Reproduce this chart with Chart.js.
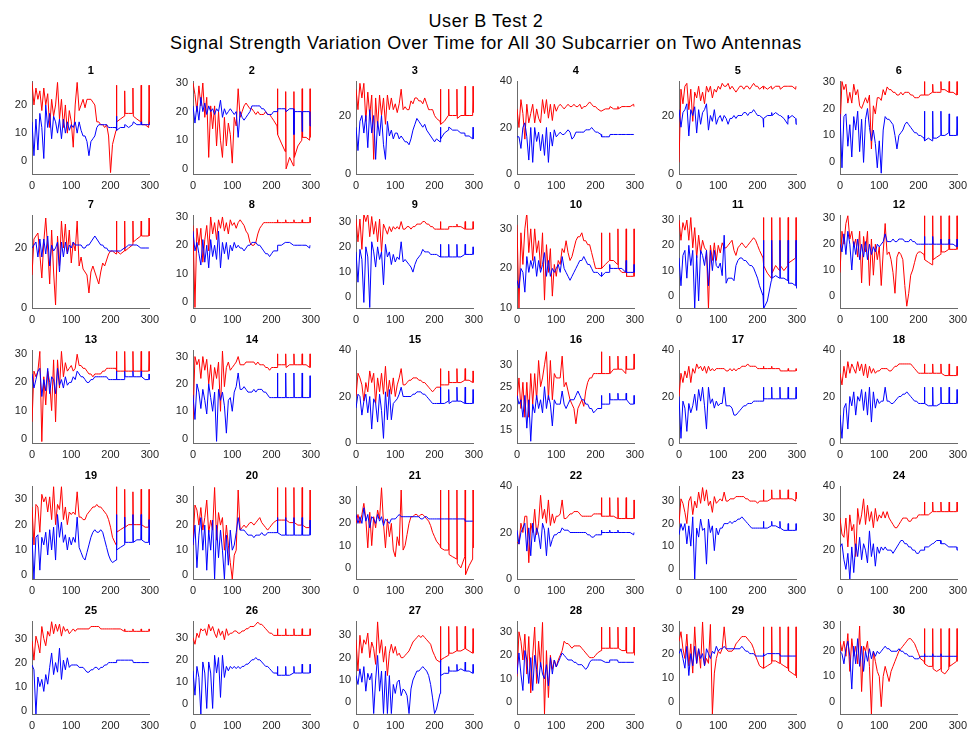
<!DOCTYPE html>
<html>
<head>
<meta charset="utf-8">
<script src="https://cdn.jsdelivr.net/npm/chart.js@4.4.1/dist/chart.umd.min.js"></script>
<style>
  body { margin: 0; background: #fff; width: 972px; height: 738px; position: relative; overflow: hidden;
         font-family: "Liberation Sans", Arial, Helvetica, sans-serif; }
  #title { position: absolute; left: 0; top: 10px; width: 972px; text-align: center;
           font-size: 18px; letter-spacing: 0.55px; line-height: 22px; color: #000; }
  canvas { position: absolute; }
</style>
</head>
<body>
<div id="title">User B Test 2<br>Signal Strength Variation Over Time for All 30 Subcarrier on Two Antennas</div>
<script>
// sample index of each stored value (denser around the periodic spikes)
const T = [0,5,10,15,20,25,30,35,40,45, 50,55,60,65,70,75,80,85,90,95,
  100,105,110,115,120,125,130,135,140,145, 150,155,160,165,170,175,180,185,190,195,
  200,205,214,215,216,225,235,236,237,246, 256,257,258,267,277,278,279,288,297,298, 300];
const xTicks = [0, 100, 200, 300];

// antenna 1 (red) and antenna 2 (blue), one pair per subcarrier
const s1r = [28,20,26,22,25,18,26,20,24,12, 22,16,20,28,15,22,12,20,10,18, 14,5,20,28,18,20,22,19,22,22, 22,21,20,14,14,13,13,12,13,9, -4,6,11,27,14,15,16,25,17,17, 17,26,16,15,14,27,13,13,12,27, 13];
const s1b = [14,2,15,4,17,12,1,20,12,17, 8,16,14,10,15,8,15,10,14,11, 13,12,14,10,14,11,9,9,7,2, 7,8,9,12,13,13,13,13,13,12, 12,12,12,16,11,12,12,13,13,12, 13,13,14,13,13,14,13,13,13,13, 14];
const s2r = [30,26,20,29,22,30,18,25,4,22, 14,22,8,20,10,4,18,8,16,12, 2,18,15,28,18,20,22,23,22,21, 21,20,19,20,19,19,19,20,19,19, 18,17,15,28,12,9,6,27,0,4, 1,27,4,8,10,28,11,11,10,28, 11];
const s2b = [22,16,22,17,25,20,23,19,22,20, 21,19,21,20,24,18,21,19,20,21, 20,19,20,11,20,18,17,18,19,20, 22,22,22,22,22,21,21,20,19,19, 19,20,20,21,21,21,21,21,20,21, 21,12,20,20,20,13,20,20,20,15, 20];
const s3r = [29,22,31,26,31,18,28,20,27,5, 26,16,27,20,26,17,27,22,26,22, 24,21,24,29,22,23,22,22,25,24, 26,26,25,25,24,26,24,22,22,22, 20,19,18,29,17,18,20,29,20,20, 20,29,19,20,20,30,20,20,20,30, 21];
const s3b = [16,8,18,20,14,20,9,22,14,20, 5,18,13,20,10,5,18,13,15,12, 14,14,12,13,12,11,11,10,12,15, 17,19,18,17,16,17,15,14,13,12, 11,12,11,16,12,14,15,16,16,15, 15,15,15,14,14,13,13,13,12,16, 12];
const s4r = [28,20,32,26,15,30,22,26,30,22, 28,24,22,32,26,32,24,30,23,30, 27,29,30,29,28,29,30,29,29,30, 29,29,30,28,29,29,30,31,30,29, 29,28,27,27,27,28,28,28,29,28, 28,29,28,29,29,29,29,29,30,29, 29];
const s4b = [16,16,11,20,22,16,6,20,5,20, 14,18,10,17,8,20,5,18,12,19, 16,17,18,17,17,18,19,18,15,16, 18,18,18,18,18,19,19,19,20,19, 18,18,17,16,16,16,16,16,17,17, 17,17,17,17,17,17,17,17,17,17, 17];
const s5r = [4,29,24,30,31,22,29,18,28,26, 30,25,28,24,30,28,30,26,29,28, 30,29,31,30,30,31,29,30,29,28, 29,30,30,29,30,30,29,30,31,30, 30,29,30,29,30,29,30,30,29,30, 30,30,29,30,30,30,30,30,29,30, 30];
const s5b = [22,16,21,22,24,13,22,20,23,14, 22,17,21,22,24,15,20,18,22,17, 19,20,18,20,19,17,19,19,20,19, 20,20,20,21,21,20,21,21,22,21, 20,20,19,16,19,20,20,21,20,21, 20,20,20,19,17,20,19,20,19,17, 19];
const s6r = [12,30,27,29,22,26,22,29,25,27, 21,20,22,24,22,25,5,21,18,24, 24,23,27,25,28,27,27,26,26,25, 25,26,25,26,26,26,25,25,24,24, 24,25,25,30,25,25,26,29,26,26, 26,30,27,27,26,30,26,26,25,30, 25];
const s6b = [18,-2,17,18,6,14,2,17,12,19, 4,16,0,16,20,13,8,12,7,-2, 8,-4,12,17,16,16,15,14,10,5, 10,11,12,14,15,14,13,12,11,11, 10,10,9,19,8,9,8,19,9,9, 10,19,10,10,11,18,10,10,10,17, 10];
const s7r = [11,23,24,25,18,10,22,30,20,8, 26,12,1,24,14,29,20,28,18,26, 15,22,19,29,14,17,13,12,11,5, 12,14,12,10,8,12,15,14,16,18, 19,19,18,29,19,18,19,29,19,20, 21,29,22,23,24,29,24,24,24,30, 24];
const s7b = [20,21,22,17,23,17,23,18,24,14, 21,19,20,22,12,22,17,22,18,21, 20,22,21,21,21,21,20,20,21,21, 22,23,24,23,22,21,21,20,20,19, 19,19,19,19,19,19,20,20,20,21, 21,21,21,21,20,20,20,20,20,20, 20];
const s8r = [27,-2,26,20,26,14,22,27,18,30, 24,28,22,29,26,30,25,28,24,29, 27,28,26,28,29,28,27,25,24,21, 20,20,21,24,26,27,28,28,28,28, 28,28,28,29,28,28,28,29,28,28, 28,29,28,28,28,29,28,28,28,30, 28];
const s8b = [25,18,21,17,13,22,14,20,12,22, 16,20,15,25,12,21,17,21,15,20, 18,21,19,20,19,19,18,19,20,20, 21,21,21,20,20,19,18,17,17,16, 17,18,18,19,20,20,21,21,21,21, 20,20,20,20,20,20,20,20,19,20, 20];
const s9r = [31,22,31,19,33,30,33,24,32,25, 30,22,31,18,29,27,25,28,26,28, 27,28,27,30,27,27,28,28,27,28, 28,29,29,29,30,30,29,29,28,28, 27,27,27,30,27,27,27,28,28,28, 28,29,28,28,27,30,27,27,27,30, 27];
const s9b = [18,6,19,15,-2,20,16,-4,22,18, 12,20,15,18,5,21,16,18,13,17, 14,16,15,22,14,15,14,13,12,10, 13,15,16,17,19,18,18,18,17,17, 17,17,16,21,16,16,16,21,16,16, 16,21,16,16,17,21,17,17,17,20, 17];
const s10r = [31,10,29,21,30,34,24,30,22,30, 24,27,20,29,12,26,19,25,13,21, 18,22,21,25,24,27,24,22,23,25, 27,28,28,29,27,27,26,26,24,22, 20,20,20,29,20,21,22,29,22,22, 21,30,20,19,19,30,18,18,18,30, 18];
const s10b = [17,15,20,19,14,23,19,22,20,23, 18,22,19,21,24,18,22,18,20,19, 20,21,19,23,20,19,18,17,18,19, 20,21,22,22,23,22,21,21,20,19, 19,19,18,19,18,19,19,21,20,20, 20,20,20,20,19,22,19,19,19,21, 19];
const s11r = [30,22,29,26,30,22,31,19,27,15, 24,17,22,19,18,-5,20,14,21,14, 20,17,21,19,19,20,21,22,18,16, 19,20,21,20,19,20,21,22,23,22, 20,18,15,31,12,9,7,31,9,12, 10,31,12,10,12,31,13,14,15,31, 14];
const s11b = [15,4,16,18,7,20,12,18,-5,16, -2,18,16,12,18,4,18,10,18,12, 11,13,8,24,5,7,7,7,6,12, 14,15,15,14,14,13,12,12,11,9, 7,4,0,22,-5,-2,6,22,7,8, 7,22,7,7,6,22,5,5,4,22, 3];
const s12r = [9,25,20,28,31,22,25,19,22,15, 25,5,23,17,25,4,22,8,20,14, 19,4,17,28,16,17,14,9,1,15, 17,16,14,4,-4,1,8,10,13,16, 17,17,16,31,14,13,12,31,14,15, 16,31,17,17,18,31,18,18,18,31, 18];
const s12b = [20,17,24,16,25,20,10,21,16,22, 14,20,15,21,14,20,16,19,17,20, 19,20,21,24,21,21,21,22,21,21, 22,22,22,21,21,21,22,21,21,20, 20,20,20,23,20,20,20,23,20,20, 20,22,20,20,20,22,20,20,19,22, 19];
const s13r = [6,24,22,24,31,-1,22,12,24,20, 10,28,6,28,18,31,22,27,24,25, 26,24,25,30,26,26,25,25,24,23, 23,22,23,23,23,23,24,24,25,25, 25,25,25,31,24,24,24,31,24,24, 24,31,24,24,24,31,24,24,24,31, 24];
const s13b = [23,18,21,24,25,15,21,17,25,16, 22,21,16,25,19,21,18,22,19,20, 20,22,21,24,23,22,22,21,20,20, 21,21,22,22,22,22,22,22,22,21, 21,21,21,24,21,21,21,24,22,22, 22,24,22,22,22,24,22,21,21,23, 21];
const s14r = [7,30,27,29,22,30,25,29,20,27, 18,26,22,28,10,32,19,26,28,25, 26,27,28,30,27,27,27,28,28,28, 28,28,27,28,27,27,27,26,26,25, 26,26,26,31,27,27,27,31,26,27, 27,31,27,27,27,31,27,27,26,31, 26];
const s14b = [16,7,20,17,11,18,14,9,20,15, 10,17,-1,18,14,17,12,2,14,15, 10,17,19,24,18,18,19,18,17,17, 17,18,17,18,18,18,17,17,16,15, 15,15,15,24,15,15,15,24,15,15, 15,24,15,15,15,24,15,15,15,23, 15];
const s15r = [20,30,28,25,18,26,22,31,26,30, 17,28,22,30,21,33,20,27,21,28, 20,25,28,32,25,25,26,27,27,28, 28,28,27,27,26,26,25,24,23,22, 23,24,24,32,25,25,25,31,26,26, 26,32,26,26,27,32,27,27,26,31, 26];
const s15b = [15,21,20,12,18,21,13,20,6,19, 17,9,21,14,2,22,10,23,10,17, 18,19,21,24,20,20,20,20,20,21, 21,22,22,22,21,21,20,19,18,17, 17,17,17,24,17,17,18,23,17,18, 18,24,18,18,17,24,17,17,17,23, 17];
const s16r = [22,27,20,26,18,26,18,28,21,28, 22,31,25,27,30,33,22,31,22,28, 27,27,27,32,25,26,24,22,21,20, 16.5,20,21,22,20.5,24,26,27,27,28, 28,28,28,33,28,28,28,32,28,29, 29,32,29,29,28,32,29,29,29,32.5, 29];
const s16b = [23,21,22,18,23,15.5,22,12.5,21,19, 23,20,22,19,25,20,23,21,16,22, 21,21,21,24,21,20,21,22,22,22, 23,24,23,22,22,21,21,20,20,19, 19.5,20,20,23,21,21,21,23.5,22,22, 22,23.5,22,22,22,23.5,22,21,21,23, 21];
const s17r = [20,30,26,31,28,33,26,32,30,34, 32,33,31,33,30,33,31,32,31,32, 32,32,32,32,31,31,32,31,32,31, 32,32,33,33,33,34,33,33,33,33, 32,32,32,33,32,32,32,33,32,32, 32,32,31,31,31,32,31,31,31,32, 31];
const s17b = [20,2,18,15,5,17,13,16,21,14, 23,18,24,16,6,24,17,19,15,18, 16,17,17,24,16,16,16,15,12,12, 13,14,15,16,16,17,17,17,18,18, 18,18,18,24,19,19,19,24,19,19, 19,24,19,19,19,24,19,19,19,24, 19];
const s18r = [30,25,33,28,35,30,34,32,30,35, 31,34,29,34,28,33,30,32,30,31, 31,32,32,32,32,31,31,32,33,33, 34,34,34,34,34,34,34,33,32,31, 30,30,30,34,30,30,30,34,30,30, 30,34,30,29,29,34,29,29,29,33, 29];
const s18b = [12,2,15,17,6,20,16,22,12,20, 18,23,14,22,12,24,9,22,15,19, 17,18,18,24,18,18,17,17,18,19, 20,20,21,21,22,21,20,19,18,18, 17,17,17,24,17,16,16,24,16,16, 17,24,17,17,17,24,17,17,17,23, 17];
const s19r = [27,12,28,27,17,32,29,31,25,31, 22,35,20,28,26,35,22,27,20,25, 24,25,24,33,23,23,22,22,24,25, 26,27,27,28,27,27,26,25,24,22, 19,15,12,35,17,18,19,34,19,20, 20,33,20,20,20,34,20,19,19,34, 18];
const s19b = [15,-1.5,15,16,2,15,12,17,8,18, 10,19,6,24,15,21,13,16,10,15, 12,15,13,23,11,9,7,6,9,12, 15,17,18,17,17,18,17,14,11,8, 6,5,6,24,10,11,12,23,13,13, 13,24,13,14,14,24,14,13,13,22, 12];
const s20r = [12,28,26,20,27,18,23,30,17,22, 18,35,14,25,20,23,10,20,12,5, -1.5,8,10,34,18,19,20,19,20,21, 21,20,21,22,23,21,20,19,18,19, 20,21,22,35,22,22,22,35,22,21, 21,35,21,20,20,35,20,19,19,34, 18];
const s20b = [12,20,3,16,23,10,20,2,18,10, 22,-1.5,20,7,18,10,-1.5,16,4,18, 10,12,17,23,18,18,18,17,16,16, 16,15,16,16,16,17,16,16,17,17, 17,17,17,23,17,16,16,23,16,16, 16,23,16,16,16,23,16,16,16,22, 16];
const s21r = [20,24,20,24,29,22,9,25,10,23, 18,26,22,36,20,9,22,14,20,8, 5,14,10,35,8,10,15,20,23,23, 24,24,23,24,24,23,22,21,19,16, 14,12,10,35,9,8,8,35,6,5, 4,35,2,0,5,35,-3,1,4,35, 9];
const s21b = [24,20,23,20,27,21,24,18,23,22, 20,24,21,23,19,22,21,20,22,22, 22,23,24,23,23,23,23,23,23,23, 23,23,23,22,22,23,23,22,22,22, 22,22,22,22,22,22,22,22,22,22, 22,22,22,22,22,21,21,21,21,21, 21];
const s22r = [16,15,24,20,27,27,7,24,20,30, 19,24,36,26,30,24,34,23,28,24, 27,27,28,34,26,26,27,28,28,29, 29,29,28,27,27,27,27,27,27,28, 28,28,28,35,27,27,27,35,27,27, 26,35,26,26,26,35,26,26,26,34, 26];
const s22b = [21,15,20,22,24,12,22,10,24,16, 22,19,13,24,21,10,22,14,17,19, 19,20,20,22,21,21,21,20,20,20, 20,20,20,20,20,20,19,19,18,18, 19,19,19,21,20,20,20,21,20,20, 20,21,20,20,20,20,20,20,19,20, 20];
const s23r = [20,31,29,25,20,30,32,24,30,27, 34,29,36,30,35,28,30,25,32,29, 30,31,30,34,30,30,31,31,31,32, 32,32,32,32,31,31,30,30,30,30, 29,30,30,35,30,30,31,35,31,31, 31,35,31,31,31,35,31,31,30,34, 31];
const s23b = [15,20,17,20,11,19,10,23,-4.6,18, 14,22,17,18,2,22,16,19,8,18, 15,18,18,20,20,20,21,20,21,21, 22,22,23,22,21,20,19,18,18,18, 18,18,18,21,18,18,19,21,19,19, 18,21,18,17,17,20,17,17,17,20, 17];
const s24r = [30,25,24,30,21,31,26,28,18,33, 28,31,36,28,34,29,32,27,33,29, 31,30,32,30,32,30,29,28,27,27, 28,29,30,30,30,29,29,30,30,30, 31,31,31,35,31,31,32,35,32,32, 32,35,32,32,32,35,32,32,32,35, 32];
const s24b = [21,22,17,14,19,11,21,13,22,18, 24,17,22,20,16,26,18,22,15,21, 19,21,20,21,20,20,20,19,20,21, 22,23,23,22,22,21,21,20,20,19, 19,20,20,20,21,21,22,22,22,23, 23,22,22,22,21,21,21,21,21,20, 21];
const s25r = [29,21,31,28,24,35,30,27,33,31, 37,32,36,33,36,31,35,33,34,32, 33,34,33,34,34,34,34,34,34,34, 35,35,35,35,35,34,34,34,34,34, 34,34,34,34,34,34,33,34,33,33, 33,34,33,33,33,34,33,33,33,34, 33];
const s25b = [19,17,-1.4,14,10,13,8,15,11,18, 24,15,20,16,26,13,21,17,22,18, 19,19,19,19,18,18,18,17,16,16, 17,17,18,18,17,18,18,19,19,20, 20,20,20,20,21,21,21,21,21,21, 21,21,20,20,20,20,20,20,20,20, 20];
const s26r = [30,27,32,30,34,33,34,31,36,33, 35,32,30,34,31,33,29,34,31,32, 32,33,33,32,32,33,33,34,34,35, 35,35,36,37,36,36,35,34,33,32, 32,31,31,34,31,31,31,34,31,31, 31,34,31,31,31,34,31,31,31,34, 31];
const s26b = [15,4,17,12,-4.5,19,14,-2,19,14, -2,22,14,21,3,22,12,17,15,17, 16,17,16,17,16,17,17,18,18,19, 20,20,21,20,20,19,18,17,17,16, 15,14,14,17,13,13,13,17,13,13, 14,17,14,14,14,18,14,14,14,18, 14];
const s27r = [28,14,30,22,28,26,31,20,27,24, 17,36,22,28,18,25,12,22,26,22, 25,21,22,20,20,21,22,23,25,27, 28,29,30,29,30,29,28,27,26,23, 21,19,18,34,19,20,21,34,22,22, 23,34,23,23,24,34,24,23,22,33, 22];
const s27b = [12,8,15,9,16,5,13,10,13,-5, 10,21,5,14,-5,14,-5,12,-5,8, 4,9,10,3,6,5,3,-5,6,10, 12,14,14,15,16,15,14,12,8,2, -5,-3,4,19,12,13,13,16,14,14, 14,17,14,15,14,18,14,14,13,17, 13];
const s28r = [11,30,26,18,29,12,28,4,20,32, 8,26,15,34,-5,22,2,20,14,18, 15,18,20,22,26,25,25,24,23,24, 24,24,24,23,22,21,20,19,19,19, 20,21,22,32,23,23,23,32,23,23, 23,32,23,22,22,32,21,21,21,32, 20];
const s28b = [12,21,12,5,22,18,8,19,5,20, 14,8,17,12,10,16,7,19,12,18, 15,17,19,21,20,19,18,18,18,17, 17,16,16,16,15,14,15,17,18,18, 18,18,18,18,18,17,17,18,18,18, 18,18,17,17,17,17,17,17,17,17, 17];
const s29r = [25,29,22,18,28,15,24,12,31,16, 22,14,33,15,18,16,32,-4.8,12,18, 21,20,22,31,22,21,21,21,22,24, 25,26,27,27,27,26,25,24,22,19, 17,15,14,31,14,15,16,31,17,17, 16,31,16,15,14,31,13,12,11,31, 10];
const s29b = [20,22,18,14,23,11,20,15,23,16, 22,18,20,15,22,20,18,21,20,23, 21,22,22,23,22,22,22,22,22,22, 22,22,23,22,21,21,20,20,20,19, 19,19,19,20,19,20,20,20,20,20, 20,20,19,19,19,19,19,19,19,19, 19];
const s30r = [24,20,24,18,27,12,25,18,22,15, 30,4,22,20,24,14,-4.9,20,16,12, 10,-2,10,14,11,8,12,14,16,18, 20,21,22,23,24,25,25,24,23,21, 19,17,16,29,15,14,14,29,13,12, 13,29,12,11,13,29,14,15,16,29, 16];
const s30b = [20,19,15,21,24,18,5,22,15,25, 14,22,12,20,16,21,17,20,18,20, 19,20,21,22,21,21,20,20,20,20, 21,20,20,19,19,18,18,18,17,17, 17,18,18,19,18,18,18,19,18,18, 18,19,18,18,18,18,18,18,18,18, 18];

const redSeries = [s1r,s2r,s3r,s4r,s5r,s6r,s7r,s8r,s9r,s10r,s11r,s12r,s13r,s14r,s15r,
  s16r,s17r,s18r,s19r,s20r,s21r,s22r,s23r,s24r,s25r,s26r,s27r,s28r,s29r,s30r];
const blueSeries = [s1b,s2b,s3b,s4b,s5b,s6b,s7b,s8b,s9b,s10b,s11b,s12b,s13b,s14b,s15b,
  s16b,s17b,s18b,s19b,s20b,s21b,s22b,s23b,s24b,s25b,s26b,s27b,s28b,s29b,s30b];

// y limits and tick labels of each subplot
const yMin = [-4.5,-1.8,0,0,0,-4.3, 0,-2.2,-4.2,10,-4.8,-4.7, -1.5,-1.6,0,12.1,0,0,
  -1.5,-1.5,-5,0,-4.6,11, -1.4,-4.5,-5.2,-5,-4.8,-4.9];
const yMax = [28.5,30.7,31.8,40,31.8,30.2, 31,30.7,32.6,33.5,32,31.3, 31.5,32.4,40,33.4,40,40,
  35.3,35.6,36.8,40,36.7,40, 37.3,37.5,36.4,34.6,33.4,32];
const yTicks = [
  [0,10,20],[0,10,20,30],[0,20],[0,20,40],[0,20],[0,10,20,30],
  [0,20],[0,10,20,30],[0,10,20,30],[10,20,30],[0,10,20,30],[0,10,20,30],
  [0,10,20,30],[0,10,20,30],[0,20,40],[15,20,25,30],[0,20,40],[0,20,40],
  [0,10,20,30],[0,10,20,30],[0,10,20,30],[0,20,40],[0,10,20,30],[20,30,40],
  [0,10,20,30],[0,10,20,30],[0,10,20,30],[0,10,20,30],[0,10,20,30],[0,10,20,30]
];

// grid layout (plot-area left / top of each column / row)
const colLeft = [32, 193, 356, 517, 679, 840];
const rowTop = [81, 215, 350, 486, 621];
const plotW = 118, plotH = 93;
const padL = 34, padT = 18, padR = 14, padB = 20;

const axisColor = '#6b6b6b';
const textColor = '#262626';

function pts(arr) { return arr.map((v, i) => ({ x: T[i], y: v })); }

for (let k = 0; k < 30; k++) {
  const c = document.createElement('canvas');
  const w = plotW + padL + padR, h = plotH + padT + padB;
  c.width = w; c.height = h;
  c.style.left = (colLeft[k % 6] - padL) + 'px';
  c.style.top = (rowTop[Math.floor(k / 6)] - padT) + 'px';
  c.style.width = w + 'px'; c.style.height = h + 'px';
  document.body.appendChild(c);

  new Chart(c, {
    type: 'line',
    data: {
      datasets: [
        { data: pts(blueSeries[k]), borderColor: '#0000ff', borderWidth: 1, pointRadius: 0, tension: 0, fill: false },
        { data: pts(redSeries[k]), borderColor: '#ff0000', borderWidth: 1, pointRadius: 0, tension: 0, fill: false }
      ]
    },
    options: {
      responsive: false,
      animation: false,
      events: [],
      layout: { padding: { left: 0, right: padR, top: 0, bottom: 0 } },
      plugins: {
        legend: { display: false },
        tooltip: { enabled: false },
        title: {
          display: true, text: String(k + 1), fullSize: false, color: '#000',
          font: { size: 11, weight: 'bold', lineHeight: 1 },
          padding: { top: 2, bottom: 5 }
        }
      },
      scales: {
        x: {
          type: 'linear', min: 0, max: 300,
          afterBuildTicks: s => { s.ticks = xTicks.map(v => ({ value: v })); },
          afterFit: s => { s.height = padB; },
          grid: { display: false, drawTicks: false },
          border: { display: true, color: axisColor, width: 1 },
          ticks: { color: textColor, font: { size: 11 }, padding: 5, maxRotation: 0, autoSkip: false }
        },
        y: {
          type: 'linear', min: yMin[k], max: yMax[k],
          afterBuildTicks: s => { s.ticks = yTicks[k].map(v => ({ value: v })); },
          afterFit: s => { s.width = padL; },
          grid: { display: false, drawTicks: false },
          border: { display: true, color: axisColor, width: 1 },
          ticks: { color: textColor, font: { size: 11 }, padding: 5, autoSkip: false }
        }
      }
    }
  });
}
</script>
</body>
</html>
